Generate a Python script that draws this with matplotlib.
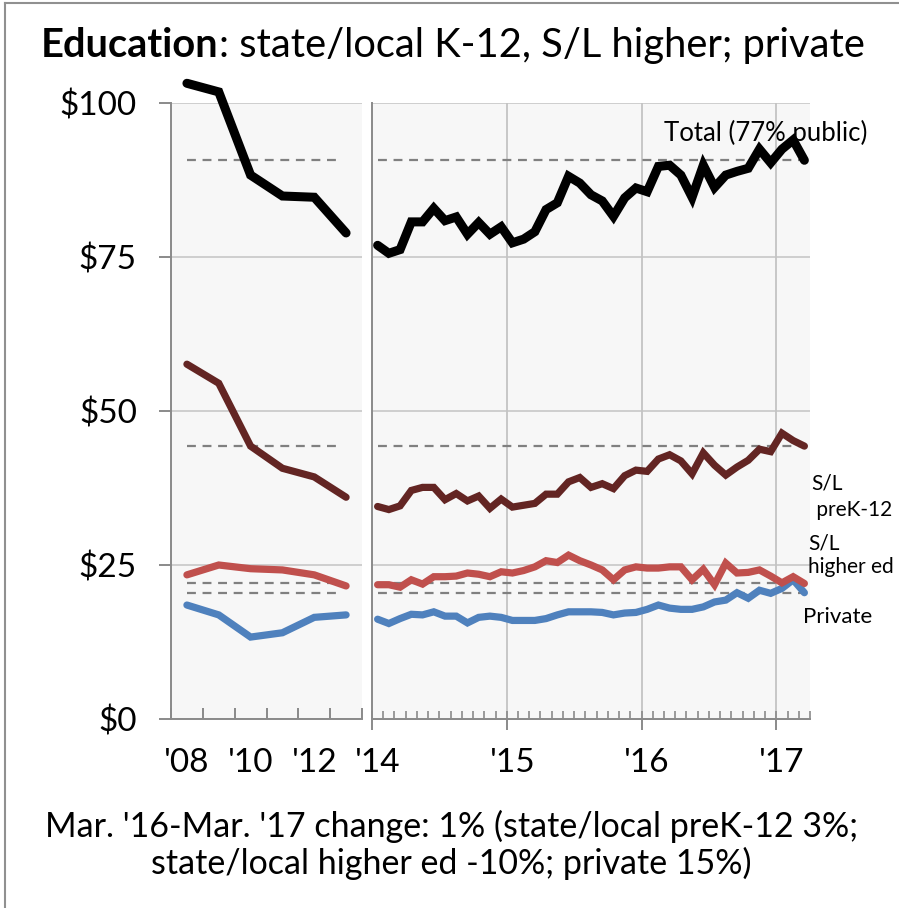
# Education spending: state/local preK-12, S/L higher ed, private (two-panel chart)
import numpy as np
import matplotlib
matplotlib.use('Agg')
import matplotlib.pyplot as plt
from matplotlib.lines import Line2D

plt.rcParams['font.family'] = ['Lato', 'DejaVu Sans']

# annual values, 2008-2013 (left panel)
years = ["'08", "'09", "'10", "'11", "'12", "'13"]
total_annual = [103.2, 101.8, 88.3, 84.9, 84.7, 78.9]
prek12_annual = [57.6, 54.5, 44.3, 40.7, 39.3, 36.0]
higher_annual = [23.4, 25.0, 24.4, 24.2, 23.4, 21.6]
private_annual = [18.5, 16.9, 13.3, 14.0, 16.5, 16.9]

# monthly values, Jan 2014 - Mar 2017 (right panel)
month_years = ["'14", "'15", "'16", "'17"]
total_monthly = [76.9, 75.6, 76.2, 80.7, 80.7, 82.9, 80.9, 81.5, 78.7, 80.6, 78.7, 79.9,
                 77.3, 77.9, 79.1, 82.7, 83.8, 88.1, 87.0, 85.1, 84.1, 81.6, 84.6, 86.2,
                 85.6, 89.7, 89.9, 88.3, 84.7, 89.9, 86.3, 88.3, 88.9, 89.4, 92.5, 90.3,
                 92.5, 94.0, 90.7]
prek12_monthly = [34.5, 34.0, 34.6, 37.1, 37.6, 37.6, 35.6, 36.6, 35.4, 36.2, 34.2, 35.7,
                  34.4, 34.7, 35.0, 36.5, 36.5, 38.5, 39.2, 37.6, 38.2, 37.4, 39.5, 40.4,
                  40.2, 42.2, 42.9, 41.9, 39.8, 43.2, 41.2, 39.6, 40.9, 42.0, 43.8, 43.4,
                  46.4, 45.2, 44.3]
higher_monthly = [21.8, 21.8, 21.4, 22.6, 21.9, 23.1, 23.1, 23.2, 23.7, 23.5, 23.1, 23.9,
                  23.7, 24.1, 24.7, 25.7, 25.4, 26.6, 25.7, 25.0, 24.2, 22.6, 24.2, 24.7,
                  24.5, 24.5, 24.7, 24.7, 22.6, 24.3, 21.8, 25.3, 23.7, 23.8, 24.2, 23.2,
                  22.1, 23.1, 22.0]
private_monthly = [16.2, 15.5, 16.3, 17.0, 16.9, 17.4, 16.7, 16.7, 15.6, 16.5, 16.7, 16.5,
                   16.0, 16.0, 16.0, 16.3, 16.9, 17.4, 17.4, 17.4, 17.3, 16.9, 17.2, 17.3,
                   17.8, 18.5, 18.0, 17.8, 17.8, 18.2, 19.0, 19.3, 20.5, 19.6, 20.9, 20.4,
                   21.2, 22.6, 20.5]

y_ticks = [0, 25, 50, 75, 100]
y_labels = ['\\$0', '\\$25', '\\$50', '\\$75', '\\$100']

colors = ['black', '#632523', '#c0504d', '#4f81bd']
widths = [6.5, 5.2, 5.2, 5.2]

W, H = 899, 908
fig = plt.figure(figsize=(W / 100, H / 100), dpi=100)

def fx(px):
    return px / W

def fy(py):
    return 1 - py / H

bg = '#f7f7f7'
grid_c = '#c3c3c3'
spine_c = '#8a8a8a'
tick_fs = 24

ax1 = fig.add_axes([fx(171), fy(719), fx(362) - fx(171), fy(103) - fy(719)])
ax2 = fig.add_axes([fx(372), fy(719), fx(810) - fx(372), fy(103) - fy(719)])

for ax in (ax1, ax2):
    ax.set_facecolor(bg)
    ax.set_ylim(0, 100)
    ax.set_yticks(y_ticks)
    ax.yaxis.grid(True, color=grid_c, lw=1.1)
    ax.set_axisbelow(True)
    for s in ('top', 'right'):
        ax.spines[s].set_visible(False)
    for s in ('left', 'bottom'):
        ax.spines[s].set_color(spine_c)
        ax.spines[s].set_linewidth(1.4)

# left panel: annual
xa = np.arange(len(years))
ax1.set_xlim(-0.5, len(years) - 0.5)
ax1.set_yticklabels(y_labels)
ax1.tick_params(axis='y', direction='out', length=8.6, width=1.4, color=spine_c,
                labelsize=tick_fs, pad=16)
ax1.set_xticks(xa[::2])
ax1.set_xticklabels(years[::2])
ax1.tick_params(axis='x', which='major', length=0, labelsize=tick_fs, pad=21)
ax1.set_xticks(np.arange(-0.5, len(years), 1), minor=True)
ax1.tick_params(axis='x', which='minor', direction='in', length=8, width=1.4, color=spine_c)

# right panel: monthly
xm = np.arange(len(total_monthly))
ax2.set_xlim(-0.5, len(xm) - 0.5)
ax2.tick_params(axis='y', length=0, labelleft=False)
ax2.set_xticks(xm[::12])
ax2.set_xticklabels(month_years)
ax2.tick_params(axis='x', which='major', length=0, labelsize=tick_fs, pad=21)
ax2.set_xticks(np.arange(-0.5, len(xm), 1), minor=True)
ax2.tick_params(axis='x', which='minor', direction='in', length=5.5, width=1.2, color=spine_c)
year_bounds = xm[::12] - 0.5
for b in year_bounds[1:]:
    ax2.axvline(b, color=grid_c, lw=1.3, zorder=0.5)
sec = ax2.secondary_xaxis('bottom')
sec.set_xticks(year_bounds)
sec.tick_params(axis='x', direction='out', length=8, width=1.4, color=spine_c, labelbottom=False)
sec.spines['bottom'].set_color(spine_c)
sec.spines['bottom'].set_linewidth(1.4)

# reference levels = latest month
annual = [total_annual, prek12_annual, higher_annual, private_annual]
monthly = [total_monthly, prek12_monthly, higher_monthly, private_monthly]
for m in monthly:
    ax1.hlines(m[-1], xa[0], xa[-1] - 0.25, colors='#808080', lw=1.6, linestyles=(0, (4, 3)), zorder=1)
    ax2.hlines(m[-1], xm[0], xm[-1], colors='#808080', lw=1.6, linestyles=(0, (4, 3)), zorder=1)

for i in range(3, -1, -1):
    ax1.plot(xa, annual[i], color=colors[i], lw=widths[i], solid_capstyle='round',
             solid_joinstyle='miter', clip_on=False, zorder=3)
    ax2.plot(xm, monthly[i], color=colors[i], lw=widths[i], solid_capstyle='round',
             solid_joinstyle='miter', clip_on=False, zorder=3)

# series labels
fig.text(fx(664), fy(133), 'Total (77% public)', fontsize=18.5, va='center', ha='left')
fig.text(fx(811), fy(497), 'S/L\n preK-12', fontsize=15, va='center', ha='left', linespacing=1.4)
fig.text(fx(808), fy(555), 'S/L\nhigher ed', fontsize=15, va='center', ha='left', linespacing=1.25)
fig.text(fx(803), fy(617), 'Private', fontsize=16, va='center', ha='left')

# title: bold lead + regular rest
title_fs = 28.7
t1 = fig.text(fx(41), fy(57), 'Education', fontsize=title_fs, fontweight='bold', va='baseline')
fig.canvas.draw()
bb = t1.get_window_extent(renderer=fig.canvas.get_renderer())
fig.text(bb.x1 / W, fy(57), ': state/local K-12, S/L higher; private', fontsize=title_fs, va='baseline')

# footer note
fig.text(fx(452), fy(826), "Mar. '16-Mar. '17 change: 1% (state/local preK-12 3%;",
         fontsize=24.5, ha='center', va='center')
fig.text(fx(451), fy(863), "state/local higher ed -10%; private 15%)",
         fontsize=24.5, ha='center', va='center')

# frame edge (top and left visible in the crop)
fig.add_artist(Line2D([fx(5), fx(5)], [0, fy(3)], color='#909090', lw=1.5))
fig.add_artist(Line2D([fx(5), 1], [fy(3), fy(3)], color='#909090', lw=1.5))

fig.savefig('out.png', dpi=100, facecolor='white')
